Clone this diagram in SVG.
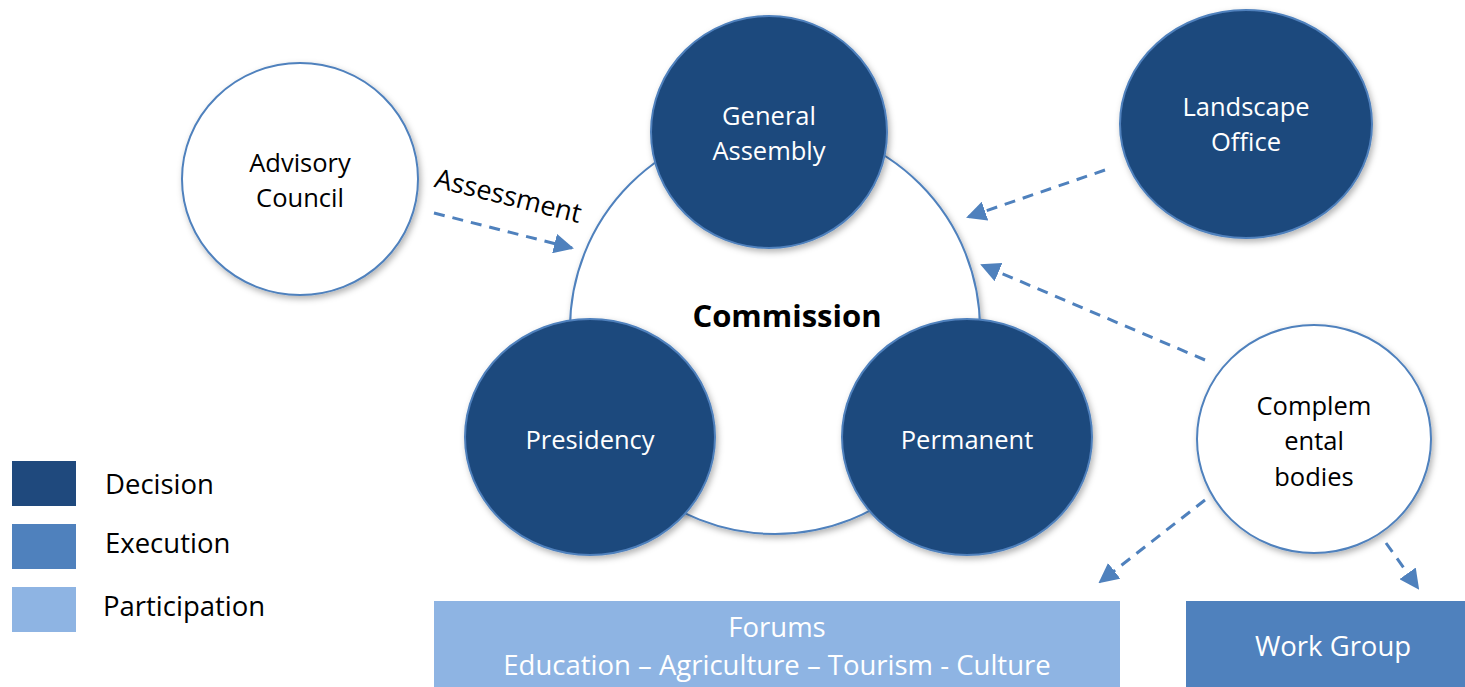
<svg xmlns="http://www.w3.org/2000/svg" width="1465" height="687" viewBox="0 0 1465 687">
<style>
text{font-family:"Open Sans","Liberation Sans",sans-serif;text-anchor:middle}
.w{fill:#fff;font-size:25.5px}
.k{fill:#000;font-size:25.5px}
.lg{fill:#000;font-size:27.5px;text-anchor:start}
.dec{fill:#1f497d;stroke:#4f81bd;stroke-width:2}
.wc{fill:#fff;stroke:#4f81bd;stroke-width:2}
.con{fill:none;stroke:#4f81bd;stroke-width:3;stroke-dasharray:11 8}
</style>
<defs>
<marker id="a" viewBox="0 0 10 10" refX="9" refY="5" markerWidth="20" markerHeight="20" markerUnits="userSpaceOnUse" orient="auto">
<path d="M0,0 L10,5 L0,10 z" fill="#4f81bd"/>
</marker>
<filter id="sh" x="-10%" y="-10%" width="130%" height="130%">
<feDropShadow dx="2" dy="3" stdDeviation="3" flood-color="#000" flood-opacity="0.3"/>
</filter>
</defs>

<g id="commission">
<circle cx="775" cy="329" r="205" class="wc" filter="url(#sh)"/>
<text x="787" y="327" style="font-size:31px;font-weight:bold" fill="#000">Commission</text>
</g>
<g id="advisory-council">
<ellipse cx="300" cy="179" rx="118" ry="116" class="wc" filter="url(#sh)"/>
<text class="k" x="300" y="172">Advisory</text>
<text class="k" x="300" y="207">Council</text>
</g>
<g id="general-assembly">
<ellipse cx="769" cy="132" rx="118" ry="116" class="dec" filter="url(#sh)"/>
<text class="w" x="769" y="125">General</text>
<text class="w" x="769" y="160">Assembly</text>
</g>
<g id="presidency">
<ellipse cx="590" cy="437" rx="125" ry="118" class="dec" filter="url(#sh)"/>
<text class="w" x="590" y="449">Presidency</text>
</g>
<g id="permanent">
<ellipse cx="967" cy="437" rx="125" ry="118" class="dec" filter="url(#sh)"/>
<text class="w" x="967" y="449">Permanent</text>
</g>
<g id="landscape-office">
<ellipse cx="1246" cy="124" rx="126" ry="114" class="dec" filter="url(#sh)"/>
<text class="w" x="1246" y="116">Landscape</text>
<text class="w" x="1246" y="151">Office</text>
</g>
<g id="complemental-bodies">
<ellipse cx="1314" cy="439" rx="117" ry="114" class="wc" filter="url(#sh)"/>
<text class="k" x="1314" y="415">Complem</text>
<text class="k" x="1314" y="450">ental</text>
<text class="k" x="1314" y="486">bodies</text>
</g>
<g id="forums">
<rect x="434" y="601" width="686" height="86" fill="#8eb4e3"/>
<text class="w" x="777" y="637" style="font-size:27.5px">Forums</text>
<text class="w" x="777" y="675" style="font-size:27.5px">Education – Agriculture – Tourism - Culture</text>
</g>
<g id="work-group">
<rect x="1186" y="601" width="279" height="86" fill="#4f81bd"/>
<text class="w" x="1333" y="656" style="font-size:27.5px">Work Group</text>
</g>
<g id="legend">
<rect x="12" y="461" width="64" height="45" fill="#1f497d"/>
<rect x="12" y="524" width="64" height="45" fill="#4f81bd"/>
<rect x="12" y="587" width="64" height="45" fill="#8eb4e3"/>
<text class="lg" x="105" y="494">Decision</text>
<text class="lg" x="105" y="553">Execution</text>
<text class="lg" x="103" y="616">Participation</text>
</g>
<g id="connectors">
<path class="con" d="M434,213 L572,248" marker-end="url(#a)"/>
<path class="con" d="M1105,170 L968,217" marker-end="url(#a)"/>
<path class="con" d="M1205,360 L982,265" marker-end="url(#a)"/>
<path class="con" d="M1205,500 L1100,582" marker-end="url(#a)"/>
<path class="con" d="M1386,543 L1418,588" marker-end="url(#a)"/>
<text class="k" x="506" y="205" transform="rotate(14 506 205)" style="font-size:27px">Assessment</text>
</g>
</svg>
